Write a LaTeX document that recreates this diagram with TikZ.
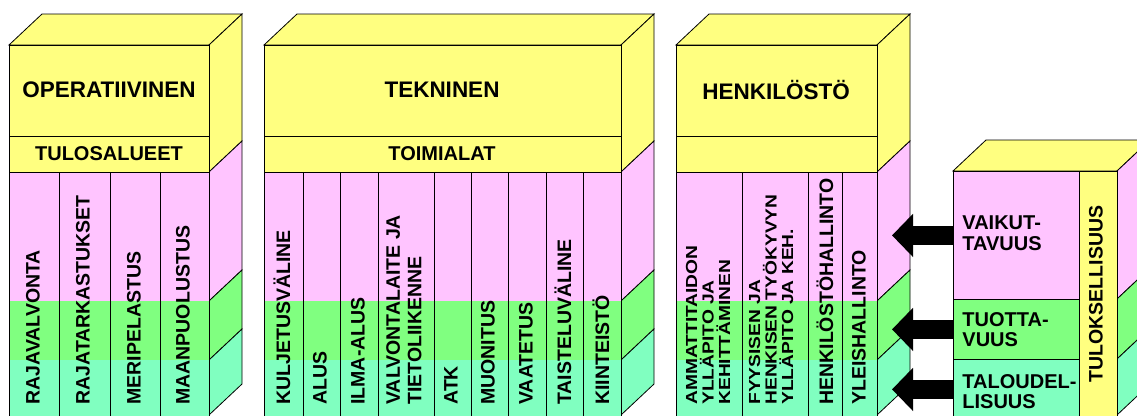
\documentclass[tikz,border=0pt]{standalone}
\usepackage{fontspec}
\setmainfont{Liberation Sans}
\newfontfamily\tightfont[FakeStretch=1.2]{Liberation Sans}
\usetikzlibrary{arrows.meta,positioning}
\definecolor{keltainen}{HTML}{FFFF80}
\definecolor{pinkki}{HTML}{FFC4FF}
\definecolor{vihrea}{HTML}{80FF80}
\definecolor{turkoosi}{HTML}{80FFC0}

\begin{document}
\begin{tikzpicture}[x=1pt, y=-1pt, line width=0.8pt,
    title/.style={font=\bfseries\fontsize{22.5}{25}\selectfont},
    bandtext/.style={font=\bfseries\fontsize{20}{22}\selectfont},
    column/.style={rotate=90, anchor=west, inner sep=0pt, align=left,
        font=\bfseries\fontsize{19.5}{21.5}\selectfont},
    narrowcol/.style={column, font=\tightfont\bfseries\fontsize{16}{16.5}\selectfont},
    sidetext/.style={inner sep=0pt, align=left, font=\bfseries\fontsize{20}{20.5}\selectfont},
    tulosband/.style={draw, anchor=north west, inner sep=0pt, minimum width=126pt},
    blockarrow/.style={line width=19pt, -{Triangle[width=42pt, length=21pt]}}]
\useasboundingbox (0,0) rectangle (1137,415);
\clip (0,0) rectangle (1137,415);

% pylvaat: vasen/oikea reuna
\foreach \l/\r in {9/209, 264/621, 676/877} {
    \filldraw[fill=keltainen] (\l,45) -- (\r,45) -- ({\r+33},14) -- ({\l+33},14) -- cycle;
    \filldraw[fill=keltainen] (\r,45) -- ({\r+33},14) -- ({\r+33},141) -- (\r,172) -- cycle;
    \filldraw[fill=pinkki] (\r,172) -- ({\r+33},141) -- ({\r+33},270) -- (\r,301) -- cycle;
    \filldraw[fill=vihrea] (\r,301) -- ({\r+33},270) -- ({\r+33},329) -- (\r,360) -- cycle;
    \filldraw[fill=turkoosi] (\r,360) -- ({\r+33},329) -- ({\r+33},384) -- (\r,415) -- cycle;
    \fill[pinkki] (\l,172) rectangle (\r,301);
    \fill[vihrea] (\l,301) rectangle (\r,360);
    \fill[turkoosi] (\l,360) rectangle (\r,418);
    \draw[fill=keltainen] (\l,45) rectangle (\r,136);
    \draw[fill=keltainen] (\l,136) rectangle (\r,172);
    \draw (\l,172) rectangle (\r,418);
}
\foreach \x in {59,110,160, 303,340,378,434,471,508,546,583, 742,808,842}
    \draw (\x,172) -- (\x,418);

\node[title] (oper) at (109,90) {OPERATIIVINEN};
\node[bandtext] (tulos) at (109,154) {TULOSALUEET};
\node[title] (tekn) at (442,90) {TEKNINEN};
\node[bandtext] (toimi) at (442,154) {TOIMIALAT};
\node[title] (henk) at (776,90) {HENKILÖSTÖ};

% tulosalueet
\node[column] (rajav) at (33,405) {RAJAVALVONTA};
\node[column] (rajat) at (83,405) {RAJATARKASTUKSET};
\node[column] (meri) at (134,405) {MERIPELASTUS};
\node[column] (maan) at (183,405) {MAANPUOLUSTUS};

% toimialat
\node[column] (kulj) at (282,405) {KULJETUSVÄLINE};
\node[column] (alus) at (320,405) {ALUS};
\node[column] (ilma) at (358,405) {ILMA-ALUS};
\node[column] (valv) at (404,405) {VALVONTALAITE JA\\TIETOLIIKENNE};
\node[column] (atk) at (451,405) {ATK};
\node[column] (muon) at (488,405) {MUONITUS};
\node[column] (vaat) at (526,405) {VAATETUS};
\node[column] (taist) at (563,405) {TAISTELUVÄLINE};
\node[column] (kiint) at (601,405) {KIINTEISTÖ};

% henkilosto
\node[narrowcol] (ammat) at (708,405) {AMMATTITAIDON\\YLLÄPITO JA\\KEHITTÄMINEN};
\node[narrowcol] (fyys) at (771,405) {FYYSISEN JA\\HENKISEN TYÖKYVYN\\YLLÄPITO JA KEH.};
\node[column] (hallinto) at (825,405) {HENKILÖSTÖHALLINTO};
\node[column] (yleis) at (859,405) {YLEISHALLINTO};

% tuloksellisuus
\filldraw[fill=keltainen] (953,171) -- (1117,171) -- (1150,140) -- (986,140) -- cycle;
\filldraw[fill=pinkki] (1117,171) -- (1150,140) -- (1150,268) -- (1117,299) -- cycle;
\filldraw[fill=vihrea] (1117,299) -- (1150,268) -- (1150,328) -- (1117,359) -- cycle;
\filldraw[fill=turkoosi] (1117,359) -- (1150,328) -- (1150,384) -- (1117,415) -- cycle;
\node[tulosband, fill=pinkki, minimum height=128pt] (vaikband) at (953,171) {};
\node[tulosband, fill=vihrea, minimum height=60pt] (tuotband) at (953,299) {};
\node[tulosband, fill=turkoosi, minimum height=60pt] (taloband) at (953,359) {};
\node[draw, fill=keltainen, anchor=north west, inner sep=0pt,
    minimum width=38pt, minimum height=250pt] (strip) at (1079,171) {};

\node[sidetext, right=9pt of vaikband.west, yshift=2pt] (vaik) {VAIKUT-\\TAVUUS};
\node[sidetext, right=9pt of tuotband.west] (tuot) {TUOTTA-\\VUUS};
\node[sidetext, right=9pt of taloband.west, yshift=-2pt] (talo) {TALOUDEL-\\LISUUS};
\node[column, anchor=center] (tulok) at (1096,294) {TULOKSELLISUUS};

\coordinate (tip) at (892,0);
\draw[blockarrow] (vaikband.west) -- (vaikband.west -| tip);
\draw[blockarrow] (tuotband.west) -- (tuotband.west -| tip);
\draw[blockarrow] (taloband.west) -- (taloband.west -| tip);
\end{tikzpicture}
\end{document}
